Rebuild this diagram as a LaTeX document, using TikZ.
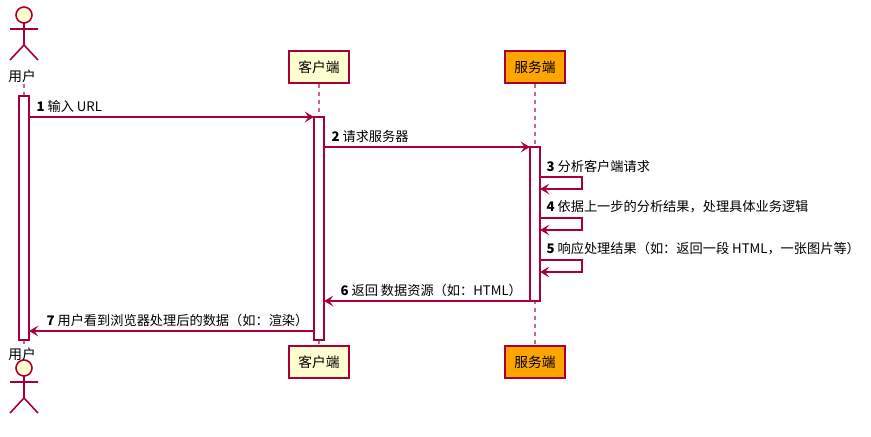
\documentclass[tikz,border=0pt]{standalone}
\usepackage{fontspec}
\setmainfont{Noto Sans CJK SC}
\usetikzlibrary{arrows.meta}
\definecolor{pr}{HTML}{A80036}
\definecolor{py}{HTML}{FEFECE}
\definecolor{por}{HTML}{FFA500}
\begin{document}
\begin{tikzpicture}[x=0.75pt,y=-0.75pt,
  part/.style={draw=pr,line width=1pt,minimum width=45pt,minimum height=24pt,font=\fontsize{10.3}{12}\selectfont,inner sep=0pt},
  life/.style={draw=pr!60,dashed,line width=0.8pt},
  act/.style={draw=pr,fill=white,line width=0.8pt},
  msg/.style={draw=pr,line width=0.8pt,-{Stealth[length=7pt,width=8pt,inset=3pt]}},
  lab/.style={font=\fontsize{9.9}{11}\selectfont,anchor=south west,inner sep=1pt},
  actor/.style={draw=pr,line width=1.2pt}]
\useasboundingbox (0,0) rectangle (871,436);
% lifelines
\draw[life] (24,84) -- (24,346);
\draw[life] (319,84) -- (319,346);
\draw[life] (535,84) -- (535,346);
% actors
\foreach \y/\n in {0/top,353/bot}{
  \draw[actor,fill=py] (24,15+\y) circle (8);
  \draw[actor] (24,23+\y) -- (24,45+\y) (10,29+\y) -- (38,29+\y) (10,60+\y) -- (24,45+\y) -- (38,60+\y);
}
\node[font=\fontsize{10.3}{12}\selectfont] (u1) at (22,76) {用户};
\node[font=\fontsize{10.3}{12}\selectfont] (u2) at (22,354) {用户};
\node[part,fill=py] (c1) at (319,67) {客户端};
\node[part,fill=py] (c2) at (319,362) {客户端};
\node[part,fill=por] (s1) at (535,67) {服务端};
\node[part,fill=por] (s2) at (535,362) {服务端};
% activations
\draw[act] (19,96) rectangle (29,340);
\draw[act] (314,117) rectangle (324,340);
\draw[act] (530,147) rectangle (540,301);
\coordinate (a1) at (29,117); \coordinate (b1) at (314,117);
\coordinate (a2) at (324,147); \coordinate (b2) at (530,147);
\coordinate (a6) at (530,301); \coordinate (b6) at (324,301);
\coordinate (a7) at (314,331); \coordinate (b7) at (29,331);
\draw[msg] (a1) -- (b1);
\node[lab] at (35,114) {\textbf{1} 输入 URL};
\draw[msg] (a2) -- (b2);
\node[lab] at (330,144) {\textbf{2} 请求服务器};
\foreach \y/\t in {177/{\textbf{3} 分析客户端请求},218/{\textbf{4} 依据上一步的分析结果，处理具体业务逻辑},260/{\textbf{5} 响应处理结果（如：返回一段 HTML，一张图片等）}}{
  \draw[msg] (540,\y) -- (582,\y) -- (582,\y+12) -- (540,\y+12);
  \node[lab] at (545,\y-3) {\t};
}
\draw[msg] (a6) -- (b6);
\node[lab] at (339,298) {\textbf{6} 返回 数据资源（如：HTML）};
\draw[msg] (a7) -- (b7);
\node[lab] at (45,328) {\textbf{7} 用户看到浏览器处理后的数据（如：渲染）};
\end{tikzpicture}
\end{document}
